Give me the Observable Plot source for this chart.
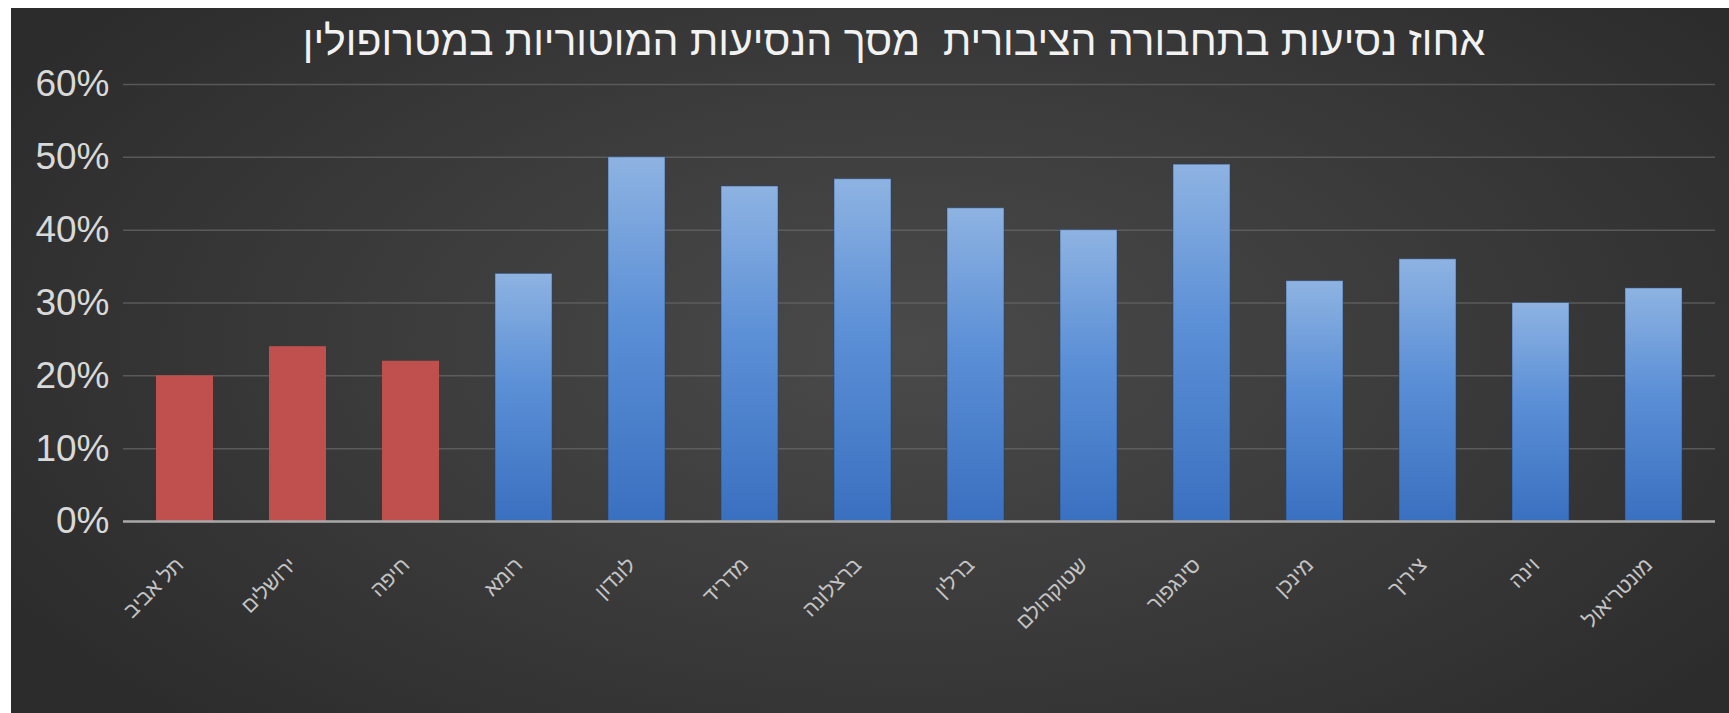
<!DOCTYPE html>
<html>
<head>
<meta charset="utf-8">
<script src="https://cdn.jsdelivr.net/npm/d3@7"></script>
<script src="https://cdn.jsdelivr.net/npm/@observablehq/plot@0.6"></script>
<style>
  html, body { margin: 0; padding: 0; background: #ffffff; width: 1729px; height: 713px; overflow: hidden; }
  #chart {
    position: absolute; left: 11px; top: 8px; width: 1718px; height: 705px;
    background: radial-gradient(ellipse 60% 75% at 52% 48%, #4a4a4a 0%, #3d3d3d 45%, #2c2c2c 100%);
  }
  #title {
    position: absolute; left: 883px; top: 10px; transform: translateX(-50%);
    white-space: pre; direction: rtl; font-family: "Liberation Sans", sans-serif;
    font-size: 41px; color: #f2f2f2; letter-spacing: 0px;
  }
  #plot { position: absolute; left: 0; top: 52px; }
</style>
</head>
<body>
<div id="chart">
  <div id="title"></div>
  <div id="plot"></div>
</div>
<script>
const title = "אחוז נסיעות בתחבורה הציבורית  מסך הנסיעות המוטוריות במטרופולין";
const categories = ["תל אביב", "ירושלים", "חיפה", "רומא", "לונדון", "מדריד", "ברצלונה", "ברלין", "שטוקהולם", "סינגפור", "מינכן", "ציריך", "וינה", "מונטריאול"];
const shares = [0.20, 0.24, 0.22, 0.34, 0.50, 0.46, 0.47, 0.43, 0.40, 0.49, 0.33, 0.36, 0.30, 0.32];
const groups = ["ישראל", "ישראל", "ישראל", "עולם", "עולם", "עולם", "עולם", "עולם", "עולם", "עולם", "עולם", "עולם", "עולם", "עולם"];
const yTicks = [0, 0.1, 0.2, 0.3, 0.4, 0.5, 0.6];

const data = categories.map((c, i) => ({ city: c, share: shares[i], group: groups[i] }));

document.getElementById("title").textContent = title;

const svg = Plot.plot({
  width: 1718,
  height: 653,
  marginLeft: 112,
  marginRight: 14,
  marginTop: 24,
  marginBottom: 192,
  style: { background: "transparent", color: "#d9d9d9", fontFamily: "Liberation Sans, sans-serif", overflow: "visible" },
  x: { domain: categories, paddingInner: 0.5, paddingOuter: 0.25, label: null },
  y: { domain: [0, 0.6], label: null },
  marks: [
    Plot.gridY(yTicks, { stroke: "#6a6a6a", strokeOpacity: 0.7, strokeWidth: 1.5 }),
    Plot.barY(data.filter(d => d.group === "ישראל"), { x: "city", y: "share", fill: "#c0504d" }),
    Plot.barY(data.filter(d => d.group !== "ישראל"), { x: "city", y: "share", fill: "url(#blueGrad)", stroke: "#1f3f6e", strokeOpacity: 0.5, strokeWidth: 1 }),
    Plot.ruleY([0], { stroke: "#a8a8a8", strokeWidth: 2.5 }),
    Plot.axisY(yTicks, { tickSize: 0, tickPadding: 14, tickFormat: d3.format(".0%"), fontSize: 37, fill: "#d9d9d9", label: null }),
    Plot.axisX({ tickSize: 0, tickPadding: 36, tickRotate: -45, fontSize: 21, fill: "#c4c4c4", label: null, dx: -5, dy: 4 })
  ]
});

svg.insertAdjacentHTML("afterbegin",
  `<defs><linearGradient id="blueGrad" x1="0" y1="0" x2="0" y2="1">
     <stop offset="0%" stop-color="#8eb3e2"/>
     <stop offset="45%" stop-color="#5b8fd6"/>
     <stop offset="100%" stop-color="#3a70c0"/>
   </linearGradient></defs>`);

document.getElementById("plot").appendChild(svg);
</script>
</body>
</html>
